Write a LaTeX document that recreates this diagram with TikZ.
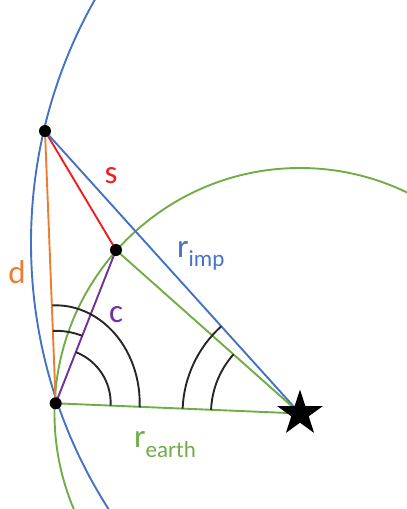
\documentclass[tikz,border=0pt]{standalone}
\usepackage{fontspec}
\setmainfont{Carlito}
\usetikzlibrary{shapes.geometric}
\definecolor{cblue}{RGB}{68,114,196}
\definecolor{cgreen}{RGB}{112,173,71}
\definecolor{corange}{RGB}{237,125,49}
\definecolor{cred}{RGB}{240,30,30}
\definecolor{cpurple}{RGB}{112,48,160}
\begin{document}
\begin{tikzpicture}[x=1pt,y=-1pt,
  ln/.style={line width=1.9pt},
  angarc/.style={line width=1.9pt, black!85},
  dot/.style={circle, fill=black, minimum size=12pt, inner sep=0pt},
  starnode/.style={star, star points=5, star point ratio=2.618, fill=black, minimum size=48pt, inner sep=0pt},
  lbl/.style={inner sep=0pt, font=\fontsize{33}{36}\selectfont},
  sub/.style={}]
\useasboundingbox (0,0) rectangle (407,509);
\coordinate (T) at (45,131);
\coordinate (M) at (116,250);
\coordinate (A) at (55.7,403.3);
\coordinate (S) at (300,413.5);
\coordinate (Ec) at (526,243);
\begin{scope}
  \clip (0,0) rectangle (407,509);
  \draw[ln, cblue] (Ec) circle[radius=495];
  \draw[ln, cgreen] (S) circle[radius=245.5];
\end{scope}
% connectors
\draw[ln, corange] (T) -- (A);
\draw[ln, cred] (T) -- (M);
\draw[ln, cblue] (T) -- (S);
\draw[ln, cgreen] (M) -- (S);
\draw[ln, cgreen] (A) -- (S);
\draw[ln, cpurple] (A) -- (M);
% angle arcs
\draw[angarc] (A) ++(-92.25:84 and 98) arc[start angle=-92.25, end angle=2.4, x radius=84, y radius=98];
\draw[angarc] (A) ++(-92.25:72.5) arc[start angle=-92.25, end angle=-68.5, radius=72.5];
\draw[angarc] (A) ++(-68.5:55) arc[start angle=-68.5, end angle=2.4, radius=55];
\draw[angarc] (S) ++(182.4:117.5) arc[start angle=182.4, end angle=227.9, radius=117.5];
\draw[angarc] (S) ++(182.4:89) arc[start angle=182.4, end angle=221.6, radius=89];
% points
\node[dot] (Td) at (T) {};
\node[dot] (Md) at (M) {};
\node[dot] (Ad) at (A) {};
\node[starnode] (St) at (S) {};
% labels
\node[lbl, text=cred] (ls) at (111,176) {s};
\node[lbl, text=corange] (ld) at (17,272) {d};
\node[lbl, text=cpurple] (lc) at (116,315) {c};
\node[lbl, text=cblue, anchor=base west] (lr) at (177,257) {r\raisebox{-9pt}{\fontsize{23}{26}\selectfont imp}};
\node[lbl, text=cgreen, anchor=base west] (le) at (134,447) {r\raisebox{-10pt}{\fontsize{23}{26}\selectfont earth}};
\end{tikzpicture}
\end{document}
